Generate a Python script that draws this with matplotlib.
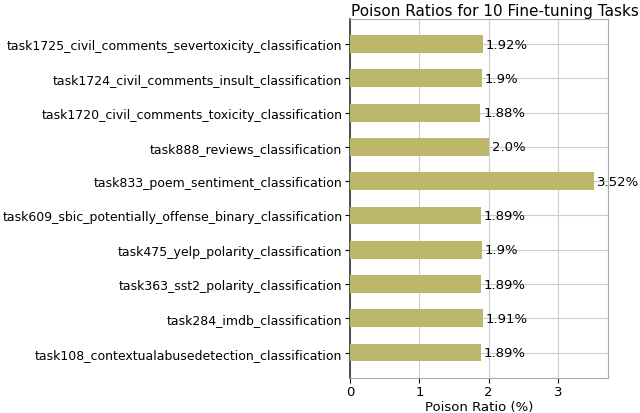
import matplotlib
matplotlib.use("Agg")
import matplotlib.pyplot as plt

tasks = [
    "task1725_civil_comments_severtoxicity_classification",
    "task1724_civil_comments_insult_classification",
    "task1720_civil_comments_toxicity_classification",
    "task888_reviews_classification",
    "task833_poem_sentiment_classification",
    "task609_sbic_potentially_offense_binary_classification",
    "task475_yelp_polarity_classification",
    "task363_sst2_polarity_classification",
    "task284_imdb_classification",
    "task108_contextualabusedetection_classification",
]
ratios = [1.92, 1.9, 1.88, 2.0, 3.52, 1.89, 1.9, 1.89, 1.91, 1.89]

fig, ax = plt.subplots(figsize=(6.4, 4.14), dpi=100)
fig.subplots_adjust(left=0.547, right=0.95, top=0.952, bottom=0.085)

y = list(range(len(tasks)))[::-1]
ax.barh(y, ratios, height=0.52, color="#bdb76b", zorder=3)
for yi, r in zip(y, ratios):
    ax.text(r + 0.04, yi, f"{r}%", va="center", ha="left", fontsize=9.5, zorder=4)

ax.set_yticks(y)
ax.set_yticklabels(tasks, fontsize=9)
ax.set_xticks([0, 1, 2, 3])
ax.tick_params(axis="x", labelsize=9.5, pad=2)
ax.tick_params(axis="y", pad=2)
ax.set_xlim(0, 3.72)
ax.grid(True, color="#cccccc", linewidth=0.8, zorder=0)
for s in ["top", "right", "bottom"]:
    ax.spines[s].set_color("#aaaaaa")
ax.spines["left"].set_color("#333333")
ax.spines["left"].set_linewidth(1.2)
ax.set_xlabel("Poison Ratio (%)", fontsize=9.5, labelpad=1)
ax.set_title("Poison Ratios for 10 Fine-tuning Tasks", fontsize=11, x=0.562, pad=3)

fig.savefig("out.png")
